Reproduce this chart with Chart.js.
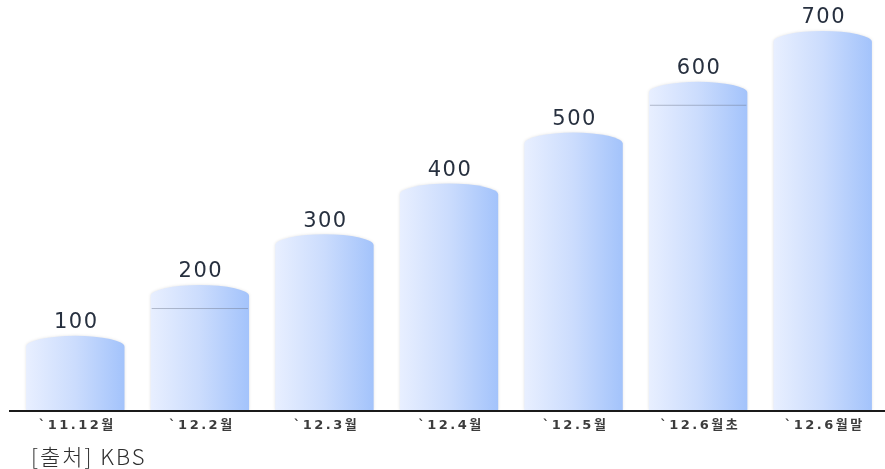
<!DOCTYPE html>
<html>
<head>
<meta charset="utf-8">
<script src="https://cdn.jsdelivr.net/npm/chart.js@4"></script>
<style>
  html, body { margin: 0; padding: 0; background: #fff; }
  #wrap { position: relative; width: 885px; height: 469px; }
  #source {
    position: absolute; left: 31px; top: 439px;
    font: 300 22px "Noto Sans CJK KR", "Noto Sans", sans-serif;
    letter-spacing: 2px;
    line-height: 32px;
    color: #2e2e2e;
  }
</style>
</head>
<body>
<div id="wrap">
  <canvas id="cyl-chart" width="885" height="469"></canvas>
  <div id="source">[출처] KBS</div>
</div>
<script>
const categories = ['`11.12월', '`12.2월', '`12.3월', '`12.4월', '`12.5월', '`12.6월초', '`12.6월말'];
const values = [100, 200, 300, 400, 500, 600, 700];
// faint rim line visible on some cylinders
const rimLine = [false, true, false, false, false, true, false];

const cylinders = {
  id: 'cylinders',
  afterDatasetsDraw(chart) {
    const ctx = chart.ctx;
    const area = chart.chartArea;
    const meta = chart.getDatasetMeta(0);
    const cap = 11;

    meta.data.forEach((bar, i) => {
      const w = bar.width;
      const left = bar.x - w / 2;
      const right = bar.x + w / 2;
      const top = bar.y;
      const base = area.bottom;

      ctx.save();
      const grad = ctx.createLinearGradient(left, 0, right, 0);
      grad.addColorStop(0, '#e8efff');
      grad.addColorStop(0.5, '#cbdcfd');
      grad.addColorStop(1, '#a3c3fb');

      ctx.beginPath();
      ctx.moveTo(left, top + cap);
      ctx.lineTo(left, base);
      ctx.lineTo(right, base);
      ctx.lineTo(right, top + cap);
      ctx.ellipse(bar.x, top + cap, w / 2, cap, 0, 0, Math.PI, true);
      ctx.closePath();
      ctx.shadowColor = 'rgba(0,0,0,0.12)';
      ctx.shadowBlur = 3;
      ctx.fillStyle = grad;
      ctx.fill();
      ctx.restore();

      if (rimLine[i]) {
        ctx.save();
        ctx.strokeStyle = 'rgba(110,120,140,0.45)';
        ctx.lineWidth = 1;
        ctx.beginPath();
        ctx.moveTo(left + 1, top + 23.5);
        ctx.lineTo(right - 1, top + 23.5);
        ctx.stroke();
        ctx.restore();
      }

      // value label
      ctx.save();
      ctx.font = '21px "DejaVu Sans", sans-serif';
      ctx.letterSpacing = '1.5px';
      ctx.fillStyle = '#27303f';
      ctx.textAlign = 'center';
      ctx.textBaseline = 'middle';
      ctx.fillText(String(values[i]), bar.x + 1, top - 13);
      ctx.restore();

      // category label
      ctx.save();
      ctx.font = 'bold 13px "DejaVu Sans", "Noto Sans CJK KR", sans-serif';
      ctx.letterSpacing = '2.5px';
      ctx.fillStyle = '#3c3c3c';
      ctx.textAlign = 'center';
      ctx.textBaseline = 'middle';
      ctx.fillText(categories[i], bar.x + 2, area.bottom + 16);
      ctx.restore();
    });

    // baseline
    ctx.save();
    ctx.strokeStyle = '#1a1a1a';
    ctx.lineWidth = 2;
    ctx.beginPath();
    ctx.moveTo(9, area.bottom + 1);
    ctx.lineTo(chart.width, area.bottom + 1);
    ctx.stroke();
    ctx.restore();
  }
};

new Chart(document.getElementById('cyl-chart'), {
  type: 'bar',
  data: {
    labels: categories,
    datasets: [{
      data: values,
      backgroundColor: 'rgba(0,0,0,0)',
      borderWidth: 0,
      categoryPercentage: 1,
      barPercentage: 0.79
    }]
  },
  options: {
    responsive: false,
    animation: false,
    layout: { padding: { left: 13, right: 0, top: 0, bottom: 59 } },
    plugins: {
      legend: { display: false },
      tooltip: { enabled: false }
    },
    scales: {
      x: {
        display: false,
        grid: { display: false }
      },
      y: {
        display: false,
        min: -46,
        max: 761
      }
    }
  },
  plugins: [cylinders]
});
</script>
</body>
</html>
